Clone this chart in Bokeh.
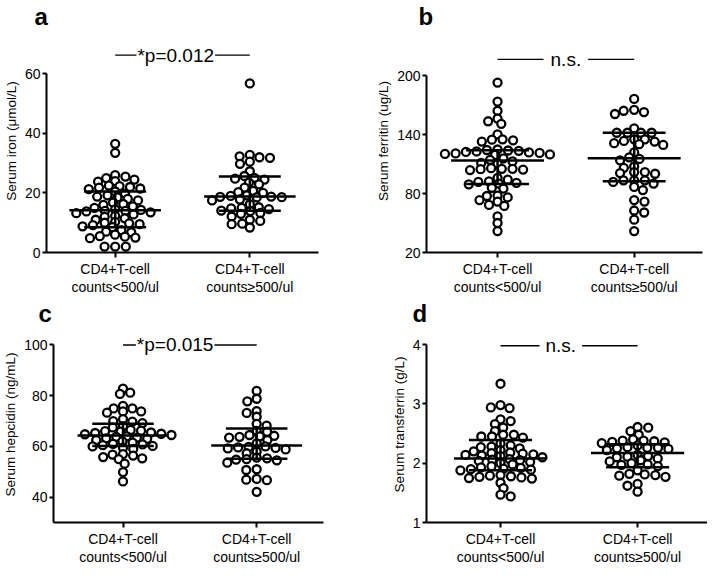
import numpy as np
from bokeh.plotting import figure
from bokeh.models import Range1d, FixedTicker, Label
from bokeh.layouts import column, row
from bokeh.embed import file_html
from bokeh.resources import INLINE

FONT = "Liberation Sans"

# ---------------- data ----------------
group_labels = ["CD4+T-cell\ncounts<500/ul", "CD4+T-cell\ncounts\u2265500/ul"]
group_pos = [1, 2]

iron_low = [36.5, 33.5, 26.0, 25.5, 25.0, 24.5, 24.0, 23.8, 22.5, 22.3, 22.0, 21.8, 21.5, 21.3,
            20.5, 19.8, 19.2, 18.8, 18.5, 18.0, 17.5, 16.8, 16.3, 16.0, 15.5, 15.0, 14.5, 14.3,
            14.0, 14.0, 13.8, 13.5, 13.2, 12.8, 12.3, 12.0, 11.5, 11.0, 10.3, 10.0, 9.8, 9.5,
            9.2, 8.8, 8.5, 7.5, 7.0, 6.8, 6.0, 5.5, 5.3, 5.0, 4.8, 2.0, 2.0, 2.0]
iron_high = [56.8, 32.8, 32.3, 32.0, 31.8, 30.5, 29.8, 27.3, 25.7, 25.1, 24.8, 24.5, 23.5, 22.9,
             21.8, 20.7, 20.3, 20.0, 19.2, 19.0, 18.8, 18.7, 18.6, 18.5, 17.8, 17.5, 16.2, 15.2,
             15.0, 14.8, 14.6, 14.1, 13.9, 13.3, 13.0, 12.1, 11.0, 10.6, 9.7, 9.5, 8.4]
iron_median = [14.2, 18.8]
iron_q1 = [8.5, 14.0]
iron_q3 = [20.5, 25.5]

ferritin_low = [193.3, 173.9, 164.5, 156.5, 153.8, 151.2, 140.4, 135.4, 135.0, 134.4, 133.1, 125.0,
                124.5, 124.0, 123.7, 123.0, 122.5, 122.0, 121.5, 121.0, 120.5, 120.0, 119.5, 116.0,
                114.5, 113.0, 111.3, 110.5, 106.0, 105.3, 105.3, 105.0, 104.5, 104.0, 96.0, 94.3,
                92.6, 92.0, 91.0, 90.3, 89.5, 86.0, 85.2, 78.0, 77.6, 76.2, 73.5, 71.9, 68.5, 67.5,
                56.8, 50.1, 41.8]
ferritin_high = [176.6, 165.5, 164.5, 163.2, 161.2, 146.5, 142.1, 142.1, 142.1, 142.1, 135.4, 135.4,
                 133.8, 133.1, 131.5, 130.4, 129.7, 122.0, 117.0, 115.4, 114.0, 107.7, 106.3, 102.0,
                 102.0, 101.0, 100.3, 93.6, 93.6, 93.6, 92.0, 90.3, 86.9, 83.6, 73.5, 71.9, 62.8,
                 60.8, 53.5, 41.8]
ferritin_median = [113.7, 116.0]
ferritin_q1 = [89.8, 92.6]
ferritin_q3 = [124.2, 142.1]

hepcidin_low = [82.8, 81.2, 80.7, 76.0, 75.0, 75.0, 73.8, 73.8, 73.3, 70.8, 70.0, 69.8, 69.2, 68.0,
                67.5, 66.5, 66.2, 66.0, 65.8, 65.5, 65.3, 65.0, 64.8, 64.5, 64.0, 63.8, 63.5, 63.2,
                63.0, 62.5, 62.0, 61.5, 61.0, 60.8, 60.5, 60.2, 60.0, 59.5, 59.0, 57.0, 56.8, 56.4,
                55.8, 55.3, 55.0, 53.2, 49.9, 46.2]
hepcidin_high = [81.9, 78.8, 77.8, 73.9, 73.2, 71.7, 68.9, 68.2, 66.1, 65.8, 64.5, 64.2, 64.0, 63.8,
                 63.5, 62.5, 61.2, 60.0, 59.8, 59.6, 59.4, 59.2, 58.8, 58.0, 57.3, 55.6, 55.3, 55.0,
                 54.8, 54.5, 53.6, 51.0, 50.7, 47.2, 46.9, 46.7, 42.1]
hepcidin_median = [64.3, 60.4]
hepcidin_q1 = [60.2, 55.1]
hepcidin_q3 = [68.9, 67.1]

transferrin_low = [3.34, 2.98, 2.94, 2.93, 2.74, 2.71, 2.66, 2.60, 2.54, 2.48, 2.48, 2.45, 2.45, 2.43,
                   2.33, 2.30, 2.28, 2.27, 2.25, 2.22, 2.20, 2.18, 2.17, 2.16, 2.15, 2.14, 2.13, 2.12,
                   2.10, 2.07, 2.06, 2.05, 2.04, 2.02, 2.00, 1.98, 1.95, 1.93, 1.92, 1.91, 1.90, 1.89,
                   1.88, 1.80, 1.79, 1.78, 1.77, 1.76, 1.75, 1.74, 1.67, 1.58, 1.47, 1.44]
transferrin_high = [2.61, 2.60, 2.54, 2.48, 2.40, 2.38, 2.38, 2.37, 2.36, 2.35, 2.34, 2.30, 2.27, 2.26,
                    2.26, 2.25, 2.24, 2.22, 2.14, 2.12, 2.11, 2.10, 2.08, 2.05, 2.03, 2.00, 1.98, 1.97,
                    1.95, 1.88, 1.82, 1.81, 1.80, 1.79, 1.77, 1.65, 1.62, 1.52]
transferrin_median = [2.08, 2.17]
transferrin_q1 = [1.88, 1.93]
transferrin_q3 = [2.39, 2.32]

panel_letters = ["a", "b", "c", "d"]
y_titles = ["Serum iron (\u03bcmol/L)", "Serum ferritin (ug/L)",
            "Serum hepcidin (ng/mL)", "Serum transferrin (g/L)"]
y_ticks = [[0, 20, 40, 60], [20, 80, 140, 200], [40, 60, 80, 100], [1, 2, 3, 4]]
y_axis_start = [0, 20, 30, 1]
sig_texts = ["*p=0.012", "n.s.", "*p=0.015", "n.s."]
sig_levels = [66.3, 217.0, 100.0, 3.98]
sig_text_x = [1.45, 1.5, 1.39, 1.44]

# ---------------- layout parameters ----------------
PX_PER_UNIT = [2.95, 0.972, 2.51, 58.7]
SIG_PAD = [1, 7, 1, 6]
TITLE_H = 22          # measured height of the title (panel letter) band
BOTTOM_ACTUAL = 54    # measured height of the x-axis band
MIN_BORDER_BOTTOM = 42


def swarm(values, ppu, px, dx=10.7, dy=5.5):
    """Beeswarm-style arrangement (ellipse collision in screen pixels)."""
    vals = np.asarray(values, dtype=float)
    ys = vals * ppu
    order = np.argsort(-vals, kind="stable")
    placed = []
    offs = np.zeros(len(vals))
    for n, i in enumerate(order):
        y = ys[i]
        cands = [0.0]
        for xp, yp in placed:
            t = abs(y - yp) / dy
            if t < 1:
                w = dx * np.sqrt(1 - t * t)
                cands += [xp + w, xp - w]
        sign = 1 if n % 2 == 0 else -1
        for c in sorted(cands, key=lambda c: (round(abs(c), 3), sign * c)):
            if all(((c - xp) / dx) ** 2 + ((y - yp) / dy) ** 2 >= 1 - 1e-6 for xp, yp in placed):
                offs[i] = c / px
                placed.append((c, y))
                break
    return offs


def make_panel(k, low, high, med, q1, q3, width, height, bl, br, x_range, letter_off):
    fw = width - bl - br
    fh = height - TITLE_H - BOTTOM_ACTUAL
    ticks = y_ticks[k]
    ppu = PX_PER_UNIT[k]
    y0 = y_axis_start[k]
    y1 = y0 + fh / ppu
    p = figure(width=width, height=height, output_backend="svg", toolbar_location=None,
               x_range=Range1d(*x_range), y_range=Range1d(y0, y1),
               min_border_left=bl, min_border_right=br, min_border_top=0,
               min_border_bottom=MIN_BORDER_BOTTOM)
    p.outline_line_color = None
    p.xgrid.visible = False
    p.ygrid.visible = False
    p.background_fill_color = "white"
    p.border_fill_color = "white"

    # panel letter as the figure title
    p.title.text = panel_letters[k]
    p.title.text_font = FONT
    p.title.text_font_size = "24px"
    p.title.text_font_style = "bold"
    p.title.text_color = "black"
    p.title.align = "left"
    p.title.offset = letter_off
    p.title.standoff = 0

    px = fw / (x_range[1] - x_range[0])
    for gi, vals in enumerate([low, high]):
        offs = swarm(vals, ppu, px)
        xs = group_pos[gi] + offs
        p.scatter(xs, vals, marker="circle", size=8, fill_color="white",
                  line_color="black", line_width=2.3)
    gp = np.array(group_pos, dtype=float)
    p.segment(gp - 0.34, med, gp + 0.34, med, line_color="black", line_width=2.5)
    p.segment(gp - 0.23, q1, gp + 0.23, q1, line_color="black", line_width=2.5)
    p.segment(gp - 0.23, q3, gp + 0.23, q3, line_color="black", line_width=2.5)
    p.segment(gp, q1, gp, q3, line_color="black", line_width=2.5)

    # significance bar
    lev = sig_levels[k]
    p.segment([gp[0]], [lev], [gp[1]], [lev], line_color="black", line_width=1.3)
    p.add_layout(Label(x=sig_text_x[k], y=lev, text=sig_texts[k], text_align="center",
                       text_baseline="middle", text_font=FONT, text_font_size="19px",
                       text_color="black", background_fill_color="white",
                       padding=SIG_PAD[k]))

    # axes
    xa = p.xaxis[0]
    xa.axis_label = None
    xa.axis_label_standoff = 0
    xa.ticker = FixedTicker(ticks=group_pos)
    xa.major_label_overrides = {pos: lab for pos, lab in zip(group_pos, group_labels)}
    xa.major_label_text_font = FONT
    xa.major_label_text_font_size = "14px"
    xa.major_label_text_color = "black"
    xa.major_label_text_line_height = 1.15
    xa.major_label_standoff = 3
    xa.major_tick_out = 5
    xa.major_tick_in = 0
    xa.minor_tick_line_color = None
    xa.axis_line_width = 2
    xa.major_tick_line_width = 2
    xa.axis_line_color = "black"

    ya = p.yaxis[0]
    ya.ticker = FixedTicker(ticks=ticks)
    ya.bounds = (y0, ticks[-1])
    ya.axis_label = y_titles[k]
    ya.axis_label_text_font = FONT
    ya.axis_label_text_font_size = "13.5px"
    ya.axis_label_text_font_style = "normal"
    ya.axis_label_text_color = "black"
    ya.axis_label_standoff = 3
    ya.major_label_text_font = FONT
    ya.major_label_text_font_size = "14px"
    ya.major_label_text_color = "black"
    ya.major_label_standoff = 2
    ya.major_tick_out = 4
    ya.major_tick_in = 0
    ya.minor_tick_line_color = None
    ya.axis_line_width = 2
    ya.major_tick_line_width = 2
    ya.axis_line_color = "black"
    return p


TOP_H, BOT_H = 297, 270
pa = make_panel(0, iron_low, iron_high, iron_median, iron_q1, iron_q3,
                356, TOP_H, 44, 38, (0.49, 2.51), -12)
pb = make_panel(1, ferritin_low, ferritin_high, ferritin_median, ferritin_q1, ferritin_q3,
                351, TOP_H, 70, 5, (0.48, 2.5), -8)
pc = make_panel(2, hepcidin_low, hepcidin_high, hepcidin_median, hepcidin_q1, hepcidin_q3,
                356, BOT_H, 48, 33, (0.48, 2.5), -15)
pd = make_panel(3, transferrin_low, transferrin_high, transferrin_median, transferrin_q1,
                transferrin_q3, 351, BOT_H, 70, 0, (0.46, 2.51), -14)

layout = column(row(pa, pb), row(pc, pd))
open("out.html", "w").write(file_html(layout, INLINE))
